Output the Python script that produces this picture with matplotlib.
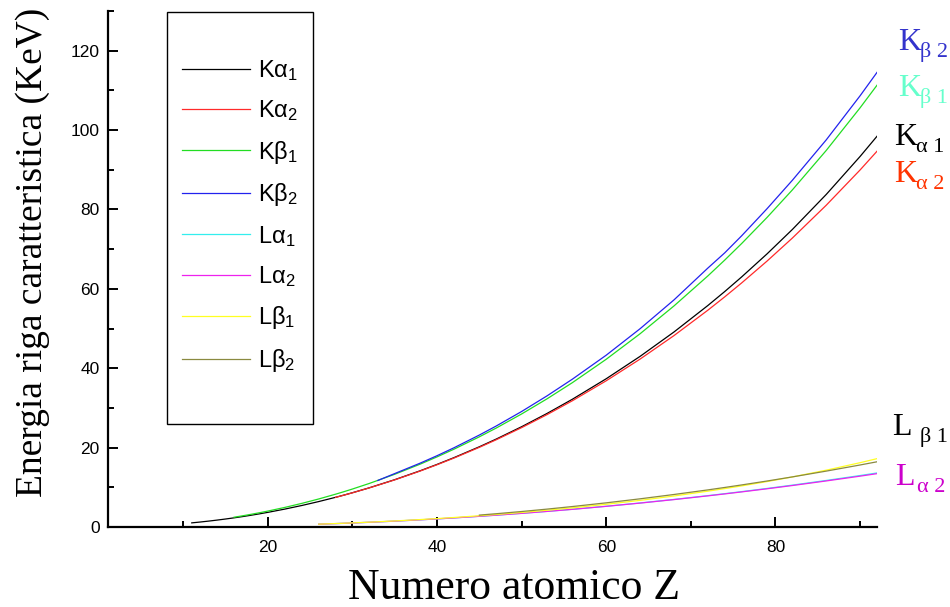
import matplotlib
matplotlib.use("Agg")
import matplotlib.pyplot as plt
from matplotlib.ticker import MultipleLocator
from matplotlib.patches import Rectangle

plt.rcParams['font.family'] = ['Liberation Sans', 'DejaVu Sans']
plt.rcParams['mathtext.fontset'] = 'custom'
plt.rcParams['mathtext.rm'] = 'Liberation Sans'
plt.rcParams['mathtext.it'] = 'Liberation Sans'
plt.rcParams['mathtext.default'] = 'regular'

# ---------------- data (keV) ----------------
z_ka1 = [11, 12, 13, 14, 15, 16, 17, 18, 19, 20, 22, 24, 26, 28, 29, 30, 32, 35, 38, 40, 42, 45, 47,
         50, 53, 56, 60, 64, 68, 72, 74, 76, 79, 82, 86, 90, 92]
e_ka1 = [1.041, 1.254, 1.487, 1.740, 2.014, 2.308, 2.622, 2.958, 3.314, 3.692, 4.511, 5.415, 6.404,
         7.478, 8.048, 8.639, 9.886, 11.924, 14.165, 15.775, 17.479, 20.216, 22.163, 25.271, 28.612,
         32.194, 37.361, 42.996, 49.128, 55.790, 59.318, 63.001, 68.804, 74.969, 83.78, 93.35, 98.44]

z_ka2 = [28, 29, 30, 32, 35, 38, 40, 42, 45, 47, 50, 53, 56, 60, 64, 68, 72, 74, 76, 79, 82, 86, 90, 92]
e_ka2 = [7.461, 8.028, 8.616, 9.855, 11.878, 14.098, 15.691, 17.374, 20.074, 21.990, 25.044, 28.317,
         31.817, 36.847, 42.309, 48.221, 54.611, 57.982, 61.487, 66.990, 72.804, 81.07, 89.95, 94.67]

z_kb1 = [16, 17, 18, 19, 20, 22, 24, 26, 28, 29, 30, 32, 35, 38, 40, 42, 45, 47, 50, 53, 56, 60, 64,
         68, 72, 74, 76, 79, 82, 86, 90, 92]
e_kb1 = [2.464, 2.816, 3.191, 3.590, 4.013, 4.932, 5.947, 7.058, 8.265, 8.905, 9.572, 10.982, 13.291,
         15.836, 17.668, 19.608, 22.724, 24.942, 28.486, 32.295, 36.378, 42.272, 48.695, 55.690,
         63.243, 67.244, 71.414, 77.984, 84.936, 94.87, 105.61, 111.30]

z_kb2 = [33, 35, 38, 40, 42, 45, 47, 50, 53, 56, 60, 64, 68, 72, 74, 76, 79, 82, 86, 90, 92]
e_kb2 = [11.726, 13.470, 16.085, 17.967, 19.965, 23.170, 25.456, 29.109, 33.042, 37.255, 43.298,
         49.962, 57.210, 65.222, 69.067, 73.363, 80.185, 87.367, 97.53, 108.64, 114.53]

z_l = [26, 28, 29, 30, 32, 35, 38, 40, 42, 45, 47, 50, 53, 56, 60, 64, 68, 72, 74, 76, 79, 82, 86, 90, 92]
e_la1 = [0.705, 0.852, 0.930, 1.012, 1.188, 1.480, 1.807, 2.042, 2.293, 2.697, 2.984, 3.444, 3.938,
         4.466, 5.231, 6.057, 6.949, 7.899, 8.398, 8.911, 9.713, 10.552, 11.727, 12.968, 13.615]
e_la2 = [0.705, 0.852, 0.930, 1.012, 1.188, 1.480, 1.807, 2.040, 2.290, 2.692, 2.978, 3.435, 3.926,
         4.451, 5.208, 6.025, 6.905, 7.845, 8.335, 8.842, 9.628, 10.450, 11.603, 12.810, 13.439]
e_lb1 = [0.719, 0.869, 0.950, 1.035, 1.216, 1.526, 1.872, 2.124, 2.395, 2.834, 3.151, 3.663, 4.221,
         4.828, 5.722, 6.713, 7.811, 9.023, 9.672, 10.354, 11.442, 12.614, 14.316, 16.202, 17.220]

z_lb2 = [45, 47, 50, 53, 56, 60, 64, 68, 72, 74, 76, 79, 82, 86, 90, 92]
e_lb2 = [3.001, 3.348, 3.905, 4.508, 5.157, 6.089, 7.102, 8.189, 9.347, 9.962, 10.598, 11.585,
         12.623, 14.08, 15.624, 16.428]

legend_labels = ['K\u03b1$_1$', 'K\u03b1$_2$', 'K\u03b2$_1$', 'K\u03b2$_2$',
                 'L\u03b1$_1$', 'L\u03b1$_2$', 'L\u03b2$_1$', 'L\u03b2$_2$']
colors = ['#000000', '#ff2a2a', '#22dd22', '#2222ee', '#33eeee', '#ee22ee', '#ffff22', '#8a8a40']

series = [(z_ka1, e_ka1), (z_ka2, e_ka2), (z_kb1, e_kb1), (z_kb2, e_kb2),
          (z_l, e_la1), (z_l, e_la2), (z_l, e_lb1), (z_lb2, e_lb2)]

W, H = 950, 607
def fx(px):
    return px / W
def fy(py):
    return 1 - py / H

fig = plt.figure(figsize=(9.5, 6.07), dpi=100)
ax = fig.add_axes([fx(108), fy(527), fx(877) - fx(108), fy(11) - fy(527)])

for (zz, ee), c, lab in zip(series, colors, legend_labels):
    ax.plot(zz, ee, color=c, lw=0.9, label=lab)

ax.set_xlim(1.1, 92)
ax.set_ylim(0, 130)
ax.xaxis.set_major_locator(MultipleLocator(20))
ax.xaxis.set_minor_locator(MultipleLocator(10))
ax.yaxis.set_major_locator(MultipleLocator(20))
ax.yaxis.set_minor_locator(MultipleLocator(10))
for s in ['top', 'right']:
    ax.spines[s].set_visible(False)
for s in ['left', 'bottom']:
    ax.spines[s].set_linewidth(1.6)
ax.tick_params(which='major', direction='in', length=7.5, width=1.4, labelsize=12.5)
ax.tick_params(which='minor', direction='in', length=4, width=1.4)
ax.tick_params(axis='y', pad=6)
ax.tick_params(axis='x', pad=9)

# legend frame
ax.add_patch(Rectangle((fx(167), fy(424)), fx(313) - fx(167), fy(12) - fy(424),
                       transform=fig.transFigure, fill=False, lw=1.0, ec='black', clip_on=False))
leg = ax.legend(loc='upper left', bbox_to_anchor=(fx(182), fy(58)),
                bbox_transform=fig.transFigure, frameon=False, fontsize=17,
                handlelength=2.9, handletextpad=0.3, labelspacing=0.655,
                borderpad=0, borderaxespad=0)

# axis labels
fig.text(fx(514), fy(599), 'Numero atomico Z', family='Liberation Serif', fontsize=31.5,
         ha='center', va='baseline')
fig.text(fx(33), fy(252), 'Energia riga caratteristica (KeV)', family='Liberation Serif',
         fontsize=27, rotation=90, ha='center', va='center')

# right-side annotations
annots = [
    (898, 50, 'K', '\u03b2 2', '#3333cc', 22),
    (898, 96, 'K', '\u03b2 1', '#66ffcc', 22),
    (894, 145, 'K', '\u03b1 1', '#000000', 22),
    (894, 182, 'K', '\u03b1 2', '#ff3300', 22),
    (892, 435, 'L', '\u03b2 1', '#000000', 28),
    (895, 485, 'L', '\u03b1 2', '#cc00cc', 22),
]
for px, py, main, sub, col, dx in annots:
    fig.text(fx(px), fy(py), main, family='Liberation Serif', fontsize=23, color=col,
             ha='left', va='baseline')
    fig.text(fx(px + dx), fy(py + 7), sub, family='Liberation Serif', fontsize=16, color=col,
             ha='left', va='baseline')

fig.savefig('out.png', dpi=100)
